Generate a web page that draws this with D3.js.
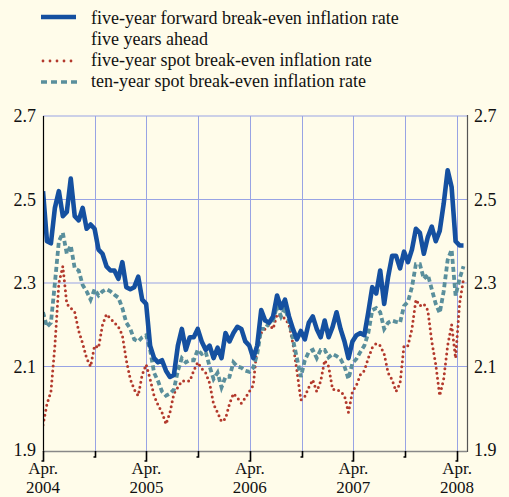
<!DOCTYPE html>
<html>
<head>
<meta charset="utf-8">
<script src="https://cdn.jsdelivr.net/npm/d3@7"></script>
<style>
  html, body { margin: 0; padding: 0; background: #fffcea; }
  svg { display: block; }
</style>
</head>
<body>
<div id="chart"></div>
<script>
// readings taken every two weeks from 1 April 2004
var startDate = "2004-04-01";
var stepDays = 14;

var forwardRate = [
  2.52, 2.40, 2.395, 2.48, 2.52, 2.46, 2.47, 2.55, 2.46, 2.45,
  2.48, 2.43, 2.44, 2.43, 2.38, 2.37, 2.34, 2.33, 2.33, 2.31,
  2.35, 2.29, 2.285, 2.29, 2.315, 2.26, 2.25, 2.15, 2.12, 2.11,
  2.115, 2.09, 2.075, 2.08, 2.15, 2.19, 2.14, 2.17, 2.17, 2.19,
  2.16, 2.14, 2.15, 2.12, 2.145, 2.12, 2.18, 2.16, 2.18, 2.195,
  2.19, 2.16, 2.15, 2.12, 2.15, 2.235, 2.21, 2.205, 2.22, 2.27,
  2.24, 2.26, 2.22, 2.19, 2.165, 2.185, 2.165, 2.205, 2.22, 2.19,
  2.17, 2.21, 2.17, 2.195, 2.23, 2.19, 2.16, 2.12, 2.16, 2.175,
  2.18, 2.175, 2.23, 2.29, 2.275, 2.33, 2.25, 2.315, 2.365, 2.365,
  2.335, 2.375, 2.35, 2.38, 2.43, 2.42, 2.37, 2.41, 2.435, 2.40,
  2.425, 2.49, 2.57, 2.53, 2.40, 2.39, 2.39
];

var fiveYearSpot = [
  1.96, 2.01, 2.04, 2.15, 2.30, 2.34, 2.25, 2.24, 2.23, 2.185,
  2.155, 2.12, 2.10, 2.15, 2.145, 2.20, 2.225, 2.215, 2.205, 2.195,
  2.175, 2.115, 2.07, 2.045, 2.03, 2.08, 2.105, 2.07, 2.03, 2.008,
  1.99, 1.962, 1.99, 2.035, 2.05, 2.065, 2.065, 2.065, 2.09, 2.11,
  2.095, 2.085, 2.06, 2.01, 1.99, 1.968, 1.975, 2.01, 2.035, 2.025,
  2.012, 2.025, 2.04, 2.055, 2.15, 2.18, 2.19, 2.20, 2.19, 2.225,
  2.22, 2.215, 2.20, 2.155, 2.09, 2.02, 2.028, 2.05, 2.068, 2.04,
  2.065, 2.115, 2.10, 2.045, 2.045, 2.04, 2.03, 1.99, 2.04, 2.055,
  2.08, 2.09, 2.12, 2.145, 2.155, 2.15, 2.13, 2.085, 2.068, 2.04,
  2.06, 2.15, 2.15, 2.19, 2.26, 2.245, 2.25, 2.235, 2.16, 2.105,
  2.03, 2.07, 2.15, 2.20, 2.12, 2.25, 2.31
];

var tenYearSpot = [
  2.23, 2.195, 2.205, 2.30, 2.40, 2.42, 2.37, 2.39, 2.335, 2.33,
  2.295, 2.28, 2.26, 2.285, 2.27, 2.28, 2.285, 2.28, 2.272, 2.265,
  2.24, 2.205, 2.19, 2.165, 2.16, 2.17, 2.175, 2.14, 2.085, 2.065,
  2.04, 2.03, 2.035, 2.045, 2.09, 2.12, 2.11, 2.115, 2.115, 2.14,
  2.13, 2.135, 2.10, 2.07, 2.085, 2.05, 2.075, 2.075, 2.11, 2.10,
  2.097, 2.09, 2.087, 2.097, 2.13, 2.19, 2.19, 2.205, 2.21, 2.245,
  2.22, 2.24, 2.21, 2.165, 2.12, 2.075, 2.115, 2.135, 2.14, 2.12,
  2.14, 2.14, 2.122, 2.13, 2.125, 2.118, 2.10, 2.07, 2.108, 2.118,
  2.135, 2.15, 2.18, 2.235, 2.24, 2.23, 2.19, 2.205, 2.21, 2.207,
  2.205, 2.245, 2.255, 2.29, 2.345, 2.345, 2.31, 2.32, 2.285, 2.25,
  2.228, 2.28, 2.355, 2.38, 2.27, 2.31, 2.34
];

var yTicks = [1.9, 2.1, 2.3, 2.5, 2.7];
var legendLabels = [
  ["five-year forward break-even inflation rate", "five years ahead"],
  ["five-year spot break-even inflation rate"],
  ["ten-year spot break-even inflation rate"]
];

(function() {
    var width = 509, height = 497;
    var left = 43, right = 467, top = 116, bottom = 451;
    var serif = "Liberation Serif";

    var parse = d3.timeParse("%Y-%m-%d");
    var start = parse(startDate);
    var dates = forwardRate.map(function(d, i) { return d3.timeDay.offset(start, i * stepDays); });

    // Apr 2004 .. Apr 2008 sit on 43 .. 457
    var x = d3.scaleTime()
        .domain([parse("2004-04-01"), parse("2008-04-01")])
        .range([left, 457]);
    var y = d3.scaleLinear().domain([1.9, 2.7]).range([450, top]);

    var svg = d3.select("#chart").append("svg")
        .attr("width", width)
        .attr("height", height);

    svg.append("rect").attr("width", width).attr("height", height).attr("fill", "#fffcea");

    var gridColor = "#98a3e4";

    // grid
    svg.append("g").selectAll("line")
        .data(yTicks.filter(function(d) { return d > 1.9; }))
        .enter().append("line")
        .attr("x1", left).attr("x2", right)
        .attr("y1", function(d) { return y(d); })
        .attr("y2", function(d) { return y(d); })
        .attr("stroke", gridColor).attr("stroke-width", 1);

    var halfYears = d3.timeMonth.range(parse("2004-10-01"), parse("2008-04-02"), 6);
    svg.append("g").selectAll("line")
        .data(halfYears)
        .enter().append("line")
        .attr("x1", function(d) { return Math.round(x(d)) + 0.5; })
        .attr("x2", function(d) { return Math.round(x(d)) + 0.5; })
        .attr("y1", top).attr("y2", bottom)
        .attr("stroke", gridColor).attr("stroke-width", 1);

    svg.append("clipPath").attr("id", "plot")
        .append("rect").attr("x", left).attr("y", top).attr("width", right - left).attr("height", bottom - top);

    var line = function(values) {
        return d3.line()
            .x(function(d, i) { return x(dates[i]); })
            .y(function(d) { return y(d); })(values);
    };

    var lines = svg.append("g").attr("clip-path", "url(#plot)");

    lines.append("path")
        .attr("d", line(fiveYearSpot))
        .attr("fill", "none")
        .attr("stroke", "#b3392c")
        .attr("stroke-width", 3)
        .attr("stroke-linecap", "round")
        .attr("stroke-dasharray", "0,5");

    lines.append("path")
        .attr("d", line(tenYearSpot))
        .attr("fill", "none")
        .attr("stroke", "#5a8f9c")
        .attr("stroke-width", 3.8)
        .attr("stroke-dasharray", "5,3");

    lines.append("path")
        .attr("d", line(forwardRate))
        .attr("fill", "none")
        .attr("stroke", "#1550a0")
        .attr("stroke-width", 4.6)
        .attr("stroke-linejoin", "round");

    // frame
    svg.append("line").attr("x1", left + 0.5).attr("x2", left + 0.5).attr("y1", top).attr("y2", bottom + 1)
        .attr("stroke", "#000").attr("stroke-width", 1.2);
    svg.append("line").attr("x1", right + 0.5).attr("x2", right + 0.5).attr("y1", top - 1).attr("y2", bottom + 1)
        .attr("stroke", "#555").attr("stroke-width", 1.2);
    svg.append("line").attr("x1", left).attr("x2", right).attr("y1", bottom + 0.5).attr("y2", bottom + 0.5)
        .attr("stroke", "#888").attr("stroke-width", 1.3);

    // bottom ticks: long at April, short at October
    var tickDates = [parse("2004-04-01")].concat(halfYears);
    var ticks = svg.append("g").selectAll("g")
        .data(tickDates)
        .enter().append("g")
        .attr("transform", function(d) { return "translate(" + (Math.round(x(d)) + 0.5) + ",0)"; });
    ticks.append("path")
        .attr("d", function(d) {
            return d.getMonth() === 3 ? "M0," + bottom + "V" + (bottom + 10) + "h-2" : "M0," + bottom + "V" + (bottom + 6) + "h-2";
        })
        .attr("fill", "none").attr("stroke", "#000").attr("stroke-width", 1.6);

    var aprils = tickDates.filter(function(d) { return d.getMonth() === 3; });
    var g = svg.append("g").selectAll("g")
        .data(aprils)
        .enter().append("g");
    g.append("text")
        .attr("x", function(d) { return x(d); })
        .attr("y", 474)
        .attr("text-anchor", "middle")
        .attr("fill", "#111")
        .style("font-family", serif)
        .style("font-size", "17px")
        .text("Apr.");
    g.append("text")
        .attr("x", function(d) { return x(d); })
        .attr("y", 493)
        .attr("text-anchor", "middle")
        .attr("fill", "#111")
        .style("font-family", serif)
        .style("font-size", "17px")
        .text(function(d) { return d.getFullYear(); });

    // y labels both sides
    svg.append("g").selectAll("text")
        .data(yTicks)
        .enter().append("text")
        .attr("x", 36)
        .attr("y", function(d) { return y(d) + 6; })
        .attr("text-anchor", "end")
        .attr("fill", "#111")
        .style("font-family", serif)
        .style("font-size", "18px")
        .text(function(d) { return d.toFixed(1); });
    svg.append("g").selectAll("text")
        .data(yTicks)
        .enter().append("text")
        .attr("x", 474)
        .attr("y", function(d) { return y(d) + 6; })
        .attr("fill", "#111")
        .style("font-family", serif)
        .style("font-size", "18px")
        .text(function(d) { return d.toFixed(1); });

    // legend
    var legend = svg.append("g");
    legend.append("line").attr("x1", 41).attr("x2", 76).attr("y1", 17).attr("y2", 17)
        .attr("stroke", "#1550a0").attr("stroke-width", 4.5);
    legend.append("line").attr("x1", 43).attr("x2", 76).attr("y1", 61).attr("y2", 61)
        .attr("stroke", "#b3392c").attr("stroke-width", 2.8)
        .attr("stroke-linecap", "round").attr("stroke-dasharray", "0,7");
    legend.append("line").attr("x1", 41).attr("x2", 77).attr("y1", 82).attr("y2", 82)
        .attr("stroke", "#5a8f9c").attr("stroke-width", 3.6).attr("stroke-dasharray", "6,4");

    var rowsY = [[24, 45], [66], [87]];
    legendLabels.forEach(function(rows, k) {
        rows.forEach(function(t, j) {
            legend.append("text")
                .attr("x", 91)
                .attr("y", rowsY[k][j])
                .attr("fill", "#111")
                .style("font-family", serif)
                .style("font-size", "18px")
                .text(t);
        });
    });
})();
</script>
</body>
</html>
